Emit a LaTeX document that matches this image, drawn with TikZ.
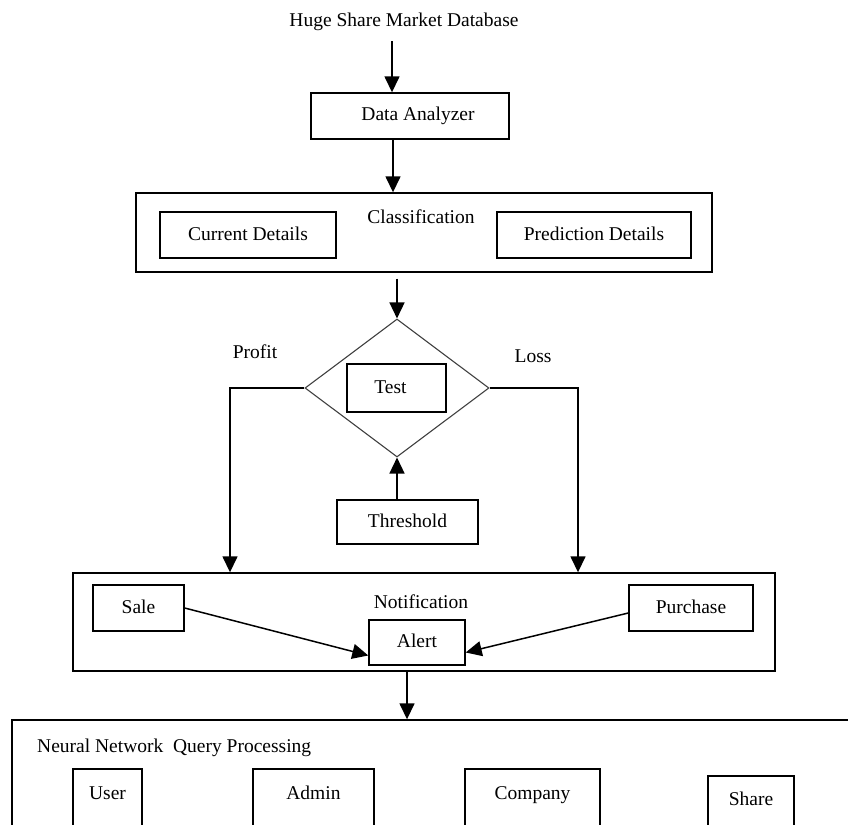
\documentclass[tikz,border=0pt]{standalone}
\usepackage{fontspec}
\setmainfont{Liberation Serif}
\usetikzlibrary{positioning, arrows.meta, shapes.geometric}

\begin{document}
\begin{tikzpicture}[x=1pt, y=-1pt,
        every node/.style = {
            font=\fontsize{19.5}{22}\selectfont,
            inner sep=0pt, align=center
        },
        box/.style = {draw, line width=1.4pt, text height=14pt, text depth=4pt},
        arr/.style = {line width=1.5pt, -{Triangle[width=15pt,length=16pt]}}
    ]
    \useasboundingbox (0,0) rectangle (848,824);
    \clip (0,0) rectangle (848,824);

    % top of the chain
    \node (db) at (404,22) {Huge Share Market Database};
    \node[box, minimum width=198pt, minimum height=46pt] (da) at (410,116) {\hspace{16pt}Data Analyzer};

    % classification block
    \node[box, minimum width=576pt, minimum height=79pt] (cls) at (424,232.5) {};
    \node (clstitle) at (421,217) {Classification};
    \node[box, minimum width=176pt, minimum height=46pt] (cur) at (248,235) {Current Details};
    \node[box, minimum width=194pt, minimum height=46pt] (pred) at (594,235) {Prediction Details};

    % decision
    \node[diamond, draw=black!75, line width=1.1pt, minimum width=184pt, minimum height=138pt] (dec) at (397,388) {};
    \node[box, minimum width=99pt, minimum height=48pt] (test) at (396.5,388) {Test\hspace{12pt}};
    \node[box, minimum width=141pt, minimum height=44pt] (thr) at (407.5,522) {Threshold};
    \node (profit) at (255,352) {Profit};
    \node (loss) at (533,356) {Loss};

    % notification block
    \node[box, minimum width=702pt, minimum height=98pt] (notif) at (424,622) {};
    \node (notiftitle) at (421,602) {Notification};
    \node[box, minimum width=91pt, minimum height=46pt] (sale) at (138.5,608) {Sale};
    \node[box, minimum width=124pt, minimum height=46pt] (purch) at (691,608) {Purchase};
    \node[box, minimum width=96pt, minimum height=45pt] (alert) at (417,642.5) {Alert};

    % query processing block
    \node[box, minimum width=848pt, minimum height=120pt] (nn) at (436,780) {};
    \node[anchor=west] (nntitle) at (37,748) {Neural Network\hspace{0.5em}Query Processing};
    \node[box, text depth=16pt, minimum width=69pt, minimum height=62pt] (user) at (107.5,800) {User};
    \node[box, text depth=16pt, minimum width=121pt, minimum height=62pt] (admin) at (313.5,800) {Admin};
    \node[box, text depth=16pt, minimum width=135pt, minimum height=62pt] (comp) at (532.5,800) {Company};
    \node[box, text depth=10pt, minimum width=86pt, minimum height=54pt] (share) at (751,803) {Share};

    % connectors
    \draw[arr, shorten <=10pt] ([xshift=-12pt]db.south) -- ([xshift=-12pt]db.south |- da.north);
    \draw[arr] ([xshift=-17pt]da.south) -- ([xshift=-17pt]da.south |- cls.north);
    \draw[arr, shorten <=6pt] (cls.south -| dec.north) -- (dec.north);
    \draw[arr] (thr.north -| dec.south) -- (dec.south);
    \draw[arr] (dec.west) -| ([xshift=-194pt]notif.north);
    \draw[arr] (dec.east) -| ([xshift=154pt]notif.north);
    \draw[arr] (sale.east) -- ([yshift=-13pt]alert.west);
    \draw[arr] ([yshift=-5pt]purch.west) -- ([yshift=-10pt]alert.east);
    \draw[arr] ([xshift=-17pt]notif.south) -- ([xshift=-17pt]notif.south |- nn.north);
\end{tikzpicture}
\end{document}
